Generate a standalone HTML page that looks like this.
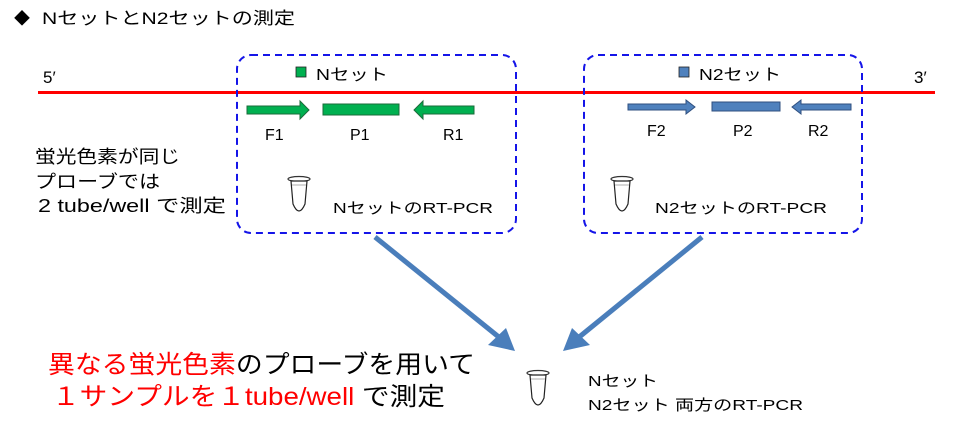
<!DOCTYPE html>
<html><head><meta charset="utf-8"><style>
html,body{margin:0;padding:0;background:#fff;}
svg{display:block;font-family:"Liberation Sans","Noto Sans CJK JP",sans-serif;}
</style></head><body>
<svg width="967" height="432" viewBox="0 0 967 432" xmlns="http://www.w3.org/2000/svg">
<defs>
<g id="tube">
<ellipse cx="11" cy="3" rx="11" ry="2.5" fill="none" stroke="#333" stroke-width="1.2"/>
<path d="M3,5 L19,5 L17,28 Q11,42 5,28 Z" fill="#fff" stroke="#222" stroke-width="1.2"/>
<line x1="4" y1="9" x2="18" y2="9" stroke="#999" stroke-width="0.8"/>
</g>
</defs>
<!-- title -->
<text x="14" y="24" font-size="16" fill="#000">◆</text>
<text x="42" y="24" font-size="17" fill="#000" textLength="253" lengthAdjust="spacingAndGlyphs">NセットとN2セットの測定</text>
<!-- red line -->
<line x1="38" y1="92.5" x2="935" y2="92.5" stroke="#ff0000" stroke-width="3"/>
<text x="43" y="83" font-size="17">5′</text>
<text x="914" y="83" font-size="17">3′</text>
<!-- boxes -->
<rect x="237" y="55" width="279" height="178" rx="14" fill="none" stroke="#1515e8" stroke-width="2" stroke-dasharray="7,5"/>
<rect x="584" y="55" width="278" height="178" rx="14" fill="none" stroke="#1515e8" stroke-width="2" stroke-dasharray="7,5"/>
<!-- box1 -->
<rect x="296" y="67" width="10" height="10" fill="#00b050" stroke="#222" stroke-width="0.8"/>
<text x="316" y="80" font-size="16" textLength="72" lengthAdjust="spacingAndGlyphs">Nセット</text>
<path d="M247,106 L300,106 L300,101 L309,110 L300,119 L300,114 L247,114 Z" fill="#00b050" stroke="#1a6b3a" stroke-width="1"/>
<rect x="323" y="104" width="76" height="11" fill="#00b050" stroke="#1a6b3a" stroke-width="1"/>
<path d="M474,106 L423,106 L423,101 L414,110 L423,119 L423,114 L474,114 Z" fill="#00b050" stroke="#1a6b3a" stroke-width="1"/>
<text x="265" y="140" font-size="16">F1</text>
<text x="350" y="140" font-size="16">P1</text>
<text x="443" y="140" font-size="16">R1</text>
<use href="#tube" x="288" y="176"/>
<text x="333" y="213" font-size="15" textLength="160" lengthAdjust="spacingAndGlyphs">NセットのRT-PCR</text>
<!-- box2 -->
<rect x="679" y="67" width="10" height="10" fill="#4f81bd" stroke="#222" stroke-width="0.8"/>
<text x="699" y="80" font-size="16" textLength="82" lengthAdjust="spacingAndGlyphs">N2セット</text>
<path d="M628,104 L686,104 L686,100 L695,107 L686,114 L686,110 L628,110 Z" fill="#4f81bd" stroke="#2f4f7f" stroke-width="1"/>
<rect x="712" y="102" width="68" height="9" fill="#4f81bd" stroke="#2f4f7f" stroke-width="1"/>
<path d="M851,104 L801,104 L801,100 L792,107 L801,114 L801,110 L851,110 Z" fill="#4f81bd" stroke="#2f4f7f" stroke-width="1"/>
<text x="647" y="136" font-size="16">F2</text>
<text x="733" y="136" font-size="16">P2</text>
<text x="808" y="136" font-size="16">R2</text>
<use href="#tube" x="611" y="176"/>
<text x="655" y="213" font-size="15" textLength="172" lengthAdjust="spacingAndGlyphs">N2セットのRT-PCR</text>
<!-- left text -->
<text x="35" y="163" font-size="18" textLength="145" lengthAdjust="spacingAndGlyphs">蛍光色素が同じ</text>
<text x="35" y="188" font-size="18" textLength="125" lengthAdjust="spacingAndGlyphs">プローブでは</text>
<text x="38" y="212" font-size="18" textLength="188" lengthAdjust="spacingAndGlyphs">2 tube/well  で測定</text>
<!-- big arrows -->
<line x1="375" y1="237" x2="500" y2="338" stroke="#4a7ebb" stroke-width="5"/>
<path d="M515,351 L488,345 L506,328 Z" fill="#4a7ebb"/>
<line x1="702" y1="237" x2="578" y2="338" stroke="#4a7ebb" stroke-width="5"/>
<path d="M563,351 L572,328 L590,345 Z" fill="#4a7ebb"/>
<!-- bottom -->
<text x="48" y="373" font-size="25" textLength="427" lengthAdjust="spacingAndGlyphs"><tspan fill="#ff0000">異なる蛍光色素</tspan><tspan fill="#000">のプローブを用いて</tspan></text>
<text x="52" y="405" font-size="25" textLength="393" lengthAdjust="spacingAndGlyphs"><tspan fill="#ff0000">１サンプルを１tube/well</tspan><tspan fill="#000"> で測定</tspan></text>
<use href="#tube" x="527" y="370"/>
<text x="588" y="386" font-size="15" textLength="70" lengthAdjust="spacingAndGlyphs">Nセット</text>
<text x="588" y="410" font-size="15" textLength="215" lengthAdjust="spacingAndGlyphs">N2セット 両方のRT-PCR</text>
</svg>
</body></html>
